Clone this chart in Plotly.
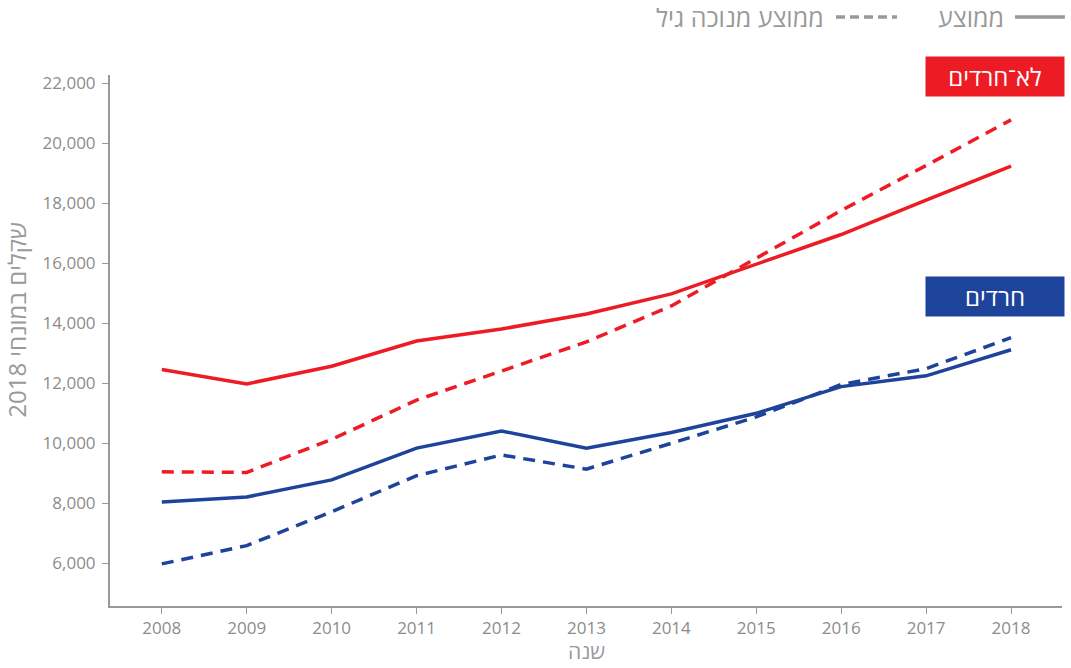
import plotly.graph_objects as go

years = [2008, 2009, 2010, 2011, 2012, 2013, 2014, 2015, 2016, 2017, 2018]
non_haredi_avg = [12450, 11970, 12560, 13400, 13800, 14300, 14970, 15950, 16950, 18100, 19230]
non_haredi_adj = [9040, 9020, 10120, 11430, 12400, 13370, 14570, 16150, 17750, 19250, 20770]
haredi_avg = [8030, 8200, 8770, 9830, 10400, 9830, 10350, 10990, 11880, 12240, 13110]
haredi_adj = [5970, 6580, 7710, 8910, 9600, 9130, 9990, 10870, 11950, 12480, 13510]
y_ticks = [6000, 8000, 10000, 12000, 14000, 16000, 18000, 20000, 22000]

RED = "#ED1C24"
BLUE = "#1E439B"
GRAY = "#8C8C8C"
LGRAY = "#999999"
FONT = "Open Sans, DejaVu Sans, sans-serif"

fig = go.Figure()
for vals, color, dash in [
    (non_haredi_adj, RED, "12px,8px"),
    (non_haredi_avg, RED, "solid"),
    (haredi_adj, BLUE, "12px,8px"),
    (haredi_avg, BLUE, "solid"),
]:
    fig.add_trace(go.Scatter(x=years, y=vals, mode="lines",
                             line=dict(color=color, width=3.5, dash=dash),
                             showlegend=False, hoverinfo="skip"))

fig.update_layout(
    width=1071, height=668,
    margin=dict(l=110, r=9, t=75, b=62),
    plot_bgcolor="white", paper_bgcolor="white",
    font=dict(family=FONT, color=GRAY),
)
fig.update_xaxes(
    range=[2007.39, 2018.6], tickvals=years, ticktext=[str(y) for y in years],
    showgrid=False, zeroline=False, showline=True, linecolor=LGRAY, linewidth=2,
    ticks="outside", ticklen=6, tickcolor=LGRAY, tickwidth=1,
    tickfont=dict(size=17, color=GRAY), ticklabelstandoff=0,
    automargin=False,
)
fig.update_yaxes(
    range=[4567, 22267], tickvals=y_ticks, tickformat=",d",
    showgrid=False, zeroline=False, showline=True, linecolor=LGRAY, linewidth=2,
    ticks="outside", ticklen=6, tickcolor=LGRAY, tickwidth=1,
    tickfont=dict(size=17, color=GRAY), ticklabelstandoff=3,
    automargin=False,
)

# Axis titles
fig.add_annotation(xref="paper", yref="paper", x=0.5, y=-0.0848, xanchor="center", yanchor="middle",
                   text="שנה", showarrow=False, height=20, borderpad=0,
                   font=dict(size=21, color=LGRAY, family=FONT))
fig.add_annotation(xref="paper", yref="paper", x=-0.0977, y=0.539, xanchor="center", yanchor="middle",
                   text="שקלים במונחי 2018", textangle=-90, showarrow=False,
                   font=dict(size=24, color=LGRAY, family=FONT))

# Category labels (boxes)
fig.add_annotation(xref="paper", yref="paper", x=1.003, y=0.997, xanchor="right", yanchor="middle",
                   text="לא־חרדים", showarrow=False, bgcolor=RED, width=130, height=31,
                   borderpad=4, font=dict(size=24, color="white", family=FONT))
fig.add_annotation(xref="paper", yref="paper", x=1.003, y=0.582, xanchor="right", yanchor="middle",
                   text="חרדים", showarrow=False, bgcolor=BLUE, width=130, height=31,
                   borderpad=4, font=dict(size=24, color="white", family=FONT))

# Custom legend at the top
fig.add_shape(type="line", xref="paper", yref="paper", x0=0.9506, x1=1.003, y0=1.109, y1=1.109,
              line=dict(color=LGRAY, width=3.5))
fig.add_annotation(xref="paper", yref="paper", x=0.941, y=1.109, xanchor="right", yanchor="middle",
                   text="ממוצע", showarrow=False, font=dict(size=25, color=LGRAY, family=FONT))
fig.add_shape(type="line", xref="paper", yref="paper", x0=0.7626, x1=0.8267, y0=1.109, y1=1.109,
              line=dict(color=LGRAY, width=3.5, dash="9px,5px"))
fig.add_annotation(xref="paper", yref="paper", x=0.752, y=1.109, xanchor="right", yanchor="middle",
                   text="ממוצע מנוכה גיל", showarrow=False, font=dict(size=25, color=LGRAY, family=FONT))

fig.write_html("out.html", config={"displayModeBar": False},
               post_script="document.body.style.margin='0';document.body.style.overflow='hidden';")
